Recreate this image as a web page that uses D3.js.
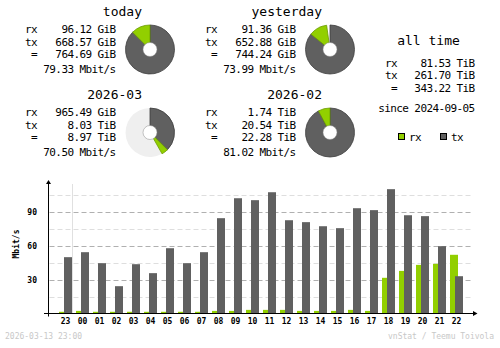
<!DOCTYPE html>
<html><head><meta charset="utf-8">
<script src="https://cdn.jsdelivr.net/npm/d3@7"></script>
<style>
html,body{margin:0;padding:0;background:#fff;}
svg{display:block;}
.t{font-family:"DejaVu Sans Mono",monospace;}
</style></head>
<body>
<script>
// ---- data ----
const hours = ["23","00","01","02","03","04","05","06","07","08","09","10","11","12","13","14","15","16","17","18","19","20","21","22"];
const rxMbit = [1.5,2.3,1.5,1.5,1.5,1.5,1.5,1.5,1.5,2.3,2.3,3.2,3.2,3.2,2.3,2.3,2.3,3.2,2.3,31.5,37.6,42.9,43.8,51.8];
const txMbit = [49.7,54.1,44.4,24.1,43.5,35.6,57.6,44.4,54.1,84.1,101.7,100,107,82.3,80.6,77,75.3,92.9,91.2,109.7,86.7,85.9,59.4,32.9];
const yTicks = [30,60,90];
const yMinorTicks = [15,45,75,105];

const periodTitles = ["today","yesterday","2026-03","2026-02"];
const periodRx = ["96.12 GiB","91.36 GiB","965.49 GiB","1.74 TiB"];
const periodTx = ["668.57 GiB","652.88 GiB","8.03 TiB","20.54 TiB"];
const periodTotal = ["764.69 GiB","744.24 GiB","8.97 TiB","22.28 TiB"];
const periodRate = ["79.33 Mbit/s","73.99 Mbit/s","70.50 Mbit/s","81.02 Mbit/s"];
const periodRxGiB = [96.12, 91.36, 965.49, 1781.76];
const periodTxGiB = [668.57, 652.88, 8222.72, 21032.96];
const periodCoverage = [1, 0.978, 0.418, 1];   // share of the circle that is filled
const periodRest = ["none","none","#efefef","none"];

const allTimeLabels = ["rx","tx","="];
const allTimeValues = ["81.53 TiB","261.70 TiB","343.22 TiB"];
const sinceText = "since 2024-09-05";
const legendKeys = ["rx","tx"];
const footerLeft = "2026-03-13 23:00";
const footerRight = "vnStat / Teemu Toivola";

// ---- style ----
const W = 500, H = 348;
const cRx = "#92cf00", cTx = "#606060";
const cRxD = "#6b9a00", cTxD = "#3c3c3c";

const svg = d3.select("body").append("svg").attr("width", W).attr("height", H);

// ---- summary blocks ----
const blocks = [
  {x:0, y:0}, {x:180, y:0}, {x:0, y:83}, {x:180, y:83}
];
const mono = "DejaVu Sans Mono";
blocks.forEach((b, i) => {
  const g = svg.append("g").attr("transform", `translate(${b.x},${b.y})`);
  g.append("text").attr("class","t").attr("x",142).attr("y",15.5)
    .attr("text-anchor","end").attr("font-size",13).attr("fill","#000")
    .text(periodTitles[i]);
  const rows = [
    {l:"rx", v:periodRx[i], y:33.3},
    {l:"tx", v:periodTx[i], y:45.8},
    {l:"=",  v:periodTotal[i], y:58.3},
    {l:"",   v:periodRate[i], y:73.3}
  ];
  rows.forEach(r => {
    if (r.l) g.append("text").attr("class","t").attr("x", r.l === "=" ? 31 : 25).attr("y", r.y)
      .attr("font-size",11).attr("letter-spacing","-0.6px").attr("fill","#000").text(r.l);
    g.append("text").attr("class","t").attr("x",115.6).attr("y",r.y).attr("text-anchor","end")
      .attr("font-size",11).attr("letter-spacing","-0.6px").attr("fill","#000").text(r.v);
  });
  // pie
  const cx = 150, cy = 49.5, R = 24.5, r0 = 7;
  const pg = g.append("g").attr("transform", `translate(${cx},${cy})`);
  const tot = periodRxGiB[i] + periodTxGiB[i];
  const full = 2*Math.PI*periodCoverage[i];
  const angle = d3.scaleLinear().domain([0, tot]).range([0, full]);
  const arc = d3.arc().innerRadius(0).outerRadius(R);
  if (periodRest[i] !== "none") {
    pg.append("path").attr("d", arc({startAngle: full, endAngle: 2*Math.PI}))
      .attr("fill", periodRest[i]);
  }
  pg.append("path").attr("d", arc({startAngle: 0, endAngle: angle(periodTxGiB[i])}))
    .attr("fill", cTx).attr("stroke", cTxD).attr("stroke-width", 0.8);
  pg.append("path").attr("d", arc({startAngle: angle(periodTxGiB[i]), endAngle: angle(tot)}))
    .attr("fill", cRx).attr("stroke", cRxD).attr("stroke-width", 0.8);
  pg.append("circle").attr("r", r0).attr("fill","#fff").attr("stroke","#888").attr("stroke-width",0.5);
});

// ---- all time ----
const ag = svg.append("g");
ag.append("text").attr("class","t").attr("x",428.5).attr("y",45).attr("text-anchor","middle")
  .attr("font-size",13).attr("fill","#000").text("all time");
allTimeLabels.forEach((l, i) => {
  const y = 66.5 + i*12.6;
  ag.append("text").attr("class","t").attr("x", l === "=" ? 391 : 385).attr("y", y)
    .attr("font-size",11).attr("letter-spacing","-0.6px").attr("fill","#000").text(l);
  ag.append("text").attr("class","t").attr("x",474.6).attr("y", y).attr("text-anchor","end")
    .attr("font-size",11).attr("letter-spacing","-0.6px").attr("fill","#000").text(allTimeValues[i]);
});
ag.append("text").attr("class","t").attr("x",474.6).attr("y",111.5).attr("text-anchor","end")
  .attr("font-size",11).attr("letter-spacing","-0.6px").attr("fill","#000").text(sinceText);
legendKeys.forEach((k, i) => {
  const lx = 398.5 + i*42;
  ag.append("rect").attr("x",lx).attr("y",133.5).attr("width",6).attr("height",6)
    .attr("fill", k === "rx" ? cRx : cTx).attr("stroke","#000").attr("stroke-width",1);
  ag.append("text").attr("class","t").attr("x",lx+10.5).attr("y",140.5)
    .attr("font-size",11).attr("letter-spacing","-0.6px").attr("fill","#000").text(k);
});

// ---- hourly chart ----
const x = d3.scaleBand().domain(hours).range([58, 58 + 17*hours.length]);
const y = d3.scaleLinear().domain([0, 90]).range([313.5, 211.5]);
const axisLeft = 48.5, gridRight = 473;

const cg = svg.append("g");
// minor grid
cg.selectAll(".gmin").data(yMinorTicks).join("line")
  .attr("x1", axisLeft+1).attr("x2", gridRight)
  .attr("y1", d => Math.round(y(d))+0.5).attr("y2", d => Math.round(y(d))+0.5)
  .attr("stroke","#dedede").attr("stroke-dasharray","5,3");
// major grid
cg.selectAll(".gmaj").data(yTicks).join("line")
  .attr("x1", axisLeft+1).attr("x2", gridRight)
  .attr("y1", d => Math.round(y(d))+0.5).attr("y2", d => Math.round(y(d))+0.5)
  .attr("stroke","#b0b0b0").attr("stroke-dasharray","5,3");
// separator between yesterday and today
cg.append("line").attr("x1", x("00")-2.5).attr("x2", x("00")-2.5)
  .attr("y1",184).attr("y2", y(0)).attr("stroke","#e0e0e0");

// bars
cg.selectAll(".rx").data(hours).join("rect")
  .attr("x", d => x(d)+1).attr("width", 8)
  .attr("y", (d,i) => y(rxMbit[i])).attr("height", (d,i) => y(0) - y(rxMbit[i]))
  .attr("fill", cRx);
cg.selectAll(".tx").data(hours).join("rect")
  .attr("x", d => x(d)+6).attr("width", 8)
  .attr("y", (d,i) => y(txMbit[i])).attr("height", (d,i) => y(0) - y(txMbit[i]))
  .attr("fill", cTx);

// axes lines
cg.append("line").attr("x1",axisLeft).attr("x2",axisLeft).attr("y1",182).attr("y2",316.5)
  .attr("stroke","#000").attr("stroke-width",1);
cg.append("line").attr("x1",44).attr("x2",476).attr("y1",313.5).attr("y2",313.5)
  .attr("stroke","#000").attr("stroke-width",1);
cg.append("path").attr("d",`M${axisLeft-2.5},184 L${axisLeft},180 L${axisLeft+2.5},184 Z`).attr("fill","#000");
cg.append("path").attr("d",`M473,311 L477.5,313.5 L473,316 Z`).attr("fill","#000");

// y labels
cg.selectAll(".yl").data(yTicks).join("text").attr("class","t")
  .attr("x", 37).attr("y", d => y(d)+3)
  .attr("text-anchor","end").attr("font-size",8).attr("font-weight","bold").attr("fill","#000")
  .text(d => d);
cg.append("text").attr("class","t").attr("transform","translate(18.5,244) rotate(-90)")
  .attr("text-anchor","middle").attr("font-size",8).attr("font-weight","bold").attr("fill","#000")
  .text("Mbit/s");
// x labels
cg.selectAll(".xl").data(hours).join("text").attr("class","t")
  .attr("x", d => x(d)+7.5).attr("y", 324)
  .attr("text-anchor","middle").attr("font-size",8).attr("font-weight","bold").attr("fill","#000")
  .text(d => d);

// footer
svg.append("text").attr("class","t").attr("x",5).attr("y",338.5).attr("font-size",8)
  .attr("fill","#c8c8c8").text(footerLeft);
svg.append("text").attr("class","t").attr("x",494).attr("y",338.5).attr("text-anchor","end")
  .attr("font-size",8).attr("fill","#c8c8c8").text(footerRight);
</script>
</body></html>
